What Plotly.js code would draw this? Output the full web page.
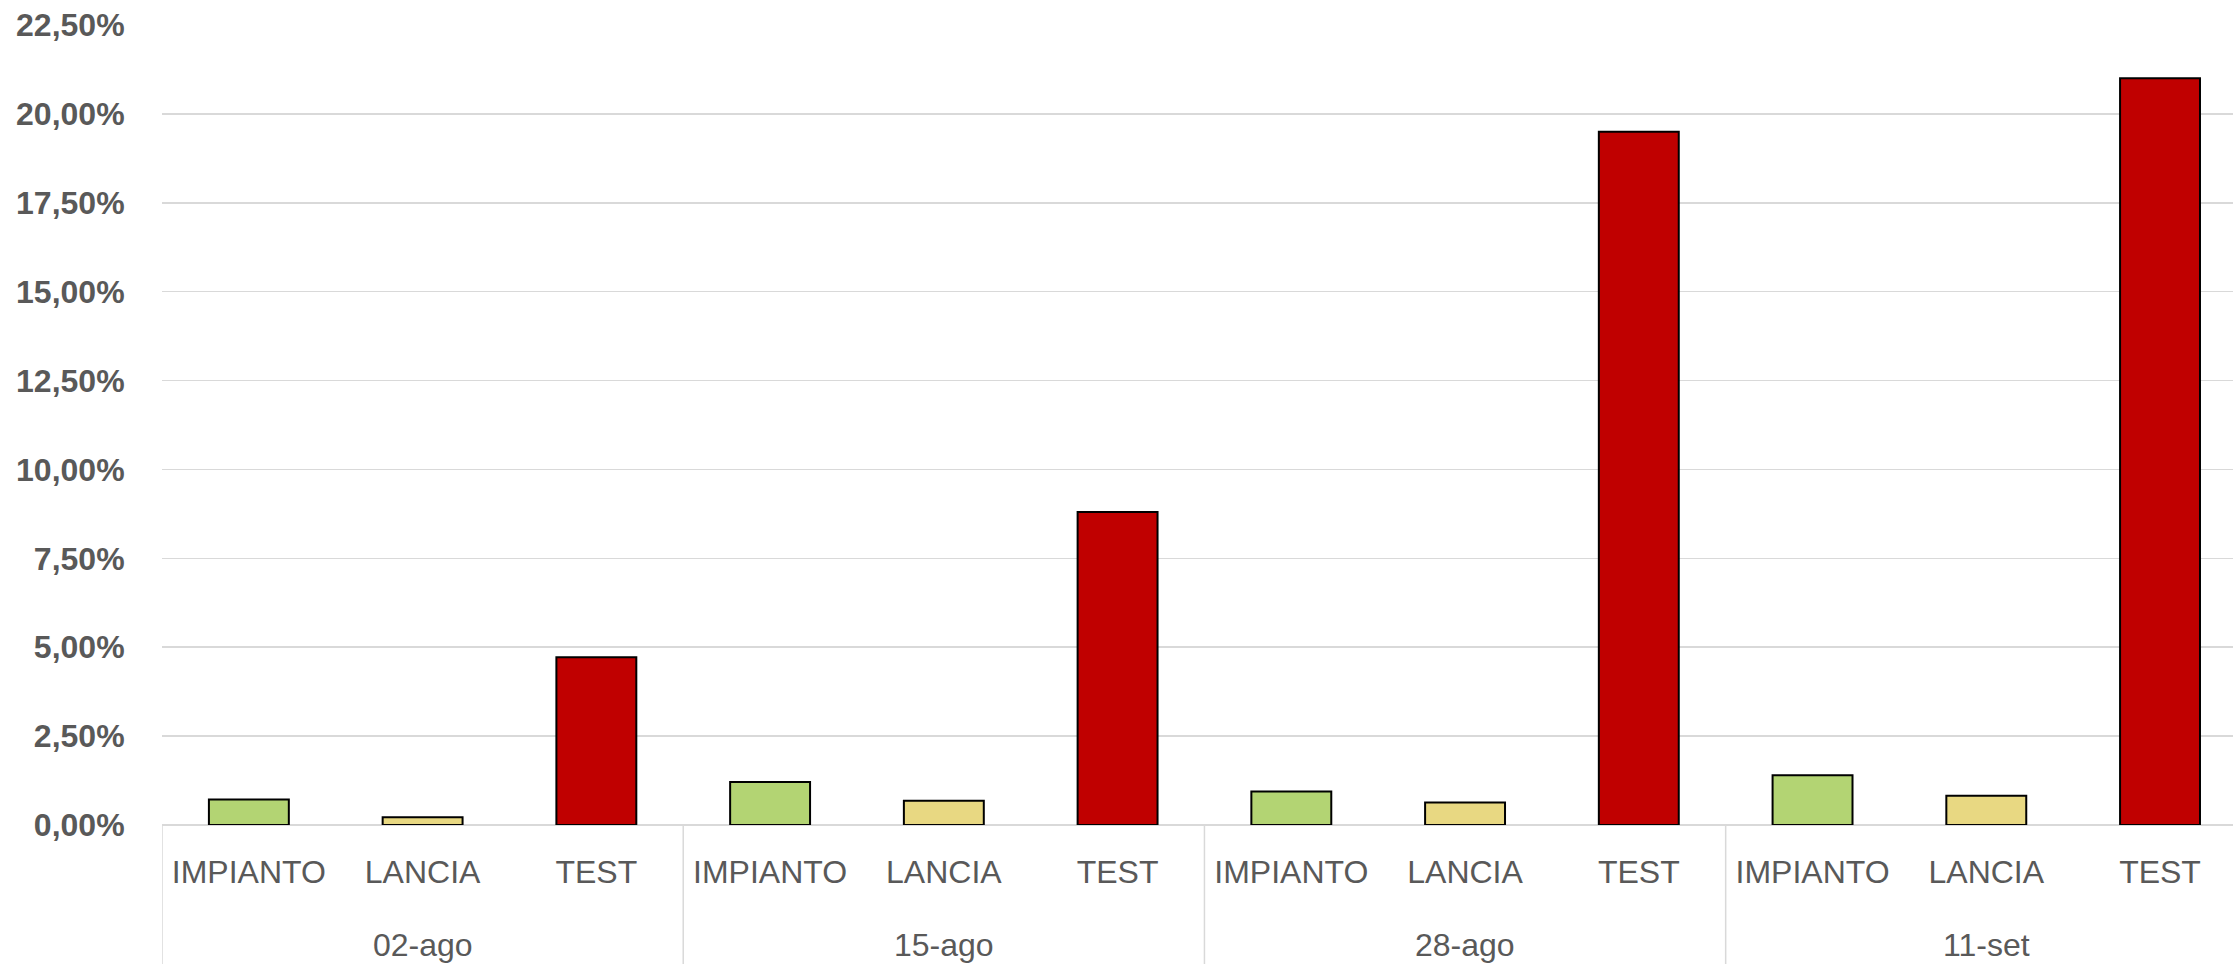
<!DOCTYPE html>
<html>
<head>
<meta charset="utf-8">
<script src="https://cdn.plot.ly/plotly-3.0.1.min.js"></script>
<style>html,body{margin:0;padding:0;background:#fff;}#chart{width:2233px;height:964px;}</style>
</head>
<body>
<div id="chart"></div>
<script>
var dates = ["02-ago", "15-ago", "28-ago", "11-set"];
var seriesNames = ["IMPIANTO", "LANCIA", "TEST"];
var impianto = [0.0072, 0.0121, 0.0094, 0.0140];
var lancia = [0.0022, 0.0068, 0.0063, 0.0082];
var test = [0.0472, 0.0880, 0.1950, 0.2100];
var seriesColors = ["#b3d473", "#e8d882", "#c00000"];
var yTicks = [0, 0.025, 0.05, 0.075, 0.10, 0.125, 0.15, 0.175, 0.20, 0.225];

var FONT = "Liberation Sans, Arial, sans-serif";
var GREY = "#595959";
var LINE = "#d9d9d9";

function key(d, s) { return d + " | " + s; }

// category order: date-major, series-minor
var catKeys = [], catText = [];
dates.forEach(function (d) {
  seriesNames.forEach(function (s) { catKeys.push(key(d, s)); catText.push(s); });
});

var values = [impianto, lancia, test];
var traces = seriesNames.map(function (name, i) {
  return {
    type: "bar",
    name: name,
    x: dates.map(function (d) { return key(d, name); }),
    y: values[i],
    marker: { color: seriesColors[i], line: { color: "#000000", width: 2 } },
    hoverinfo: "y"
  };
});

var nSub = seriesNames.length;
var annotations = dates.map(function (d) {
  return {
    xref: "x", yref: "paper",
    x: key(d, seriesNames[Math.floor(nSub / 2)]),
    y: 0, yshift: -120, yanchor: "middle", xanchor: "center",
    text: d, showarrow: false,
    font: { family: FONT, size: 32, color: GREY }
  };
});
var shapes = dates.map(function (d, i) {
  return {
    type: "line", xref: "x", yref: "paper",
    x0: i * nSub - 0.5, x1: i * nSub - 0.5, y0: 0, y1: -0.2,
    line: { color: LINE, width: 1.5 }, layer: "below"
  };
});

var layout = {
  width: 2233,
  height: 964,
  margin: { l: 162, r: 0, t: 25, b: 139, pad: 0 },
  paper_bgcolor: "#ffffff",
  plot_bgcolor: "#ffffff",
  barmode: "overlay",
  bargap: 0.54,
  showlegend: false,
  separators: ",.",
  font: { family: FONT, size: 32, color: GREY },
  annotations: annotations,
  shapes: shapes,
  xaxis: {
    type: "category",
    categoryorder: "array",
    categoryarray: catKeys,
    tickvals: catKeys,
    ticktext: catText,
    range: [-0.5, catKeys.length - 0.58],
    showgrid: false,
    showline: false,
    zeroline: false,
    ticks: "outside",
    ticklen: 19,
    tickcolor: "rgba(0,0,0,0)",
    tickfont: { family: FONT, size: 32, color: GREY }
  },
  yaxis: {
    range: [0, 0.225],
    tickvals: yTicks,
    tickformat: ".2%",
    showgrid: true,
    gridcolor: LINE,
    gridwidth: 1.5,
    zeroline: true,
    zerolinecolor: LINE,
    zerolinewidth: 1.5,
    showline: false,
    ticks: "outside",
    ticklen: 30,
    tickcolor: "rgba(0,0,0,0)",
    tickfont: { family: FONT, size: 32, color: GREY, weight: "bold" }
  }
};

Plotly.newPlot("chart", traces, layout, { displayModeBar: false, staticPlot: true });
</script>
</body>
</html>
